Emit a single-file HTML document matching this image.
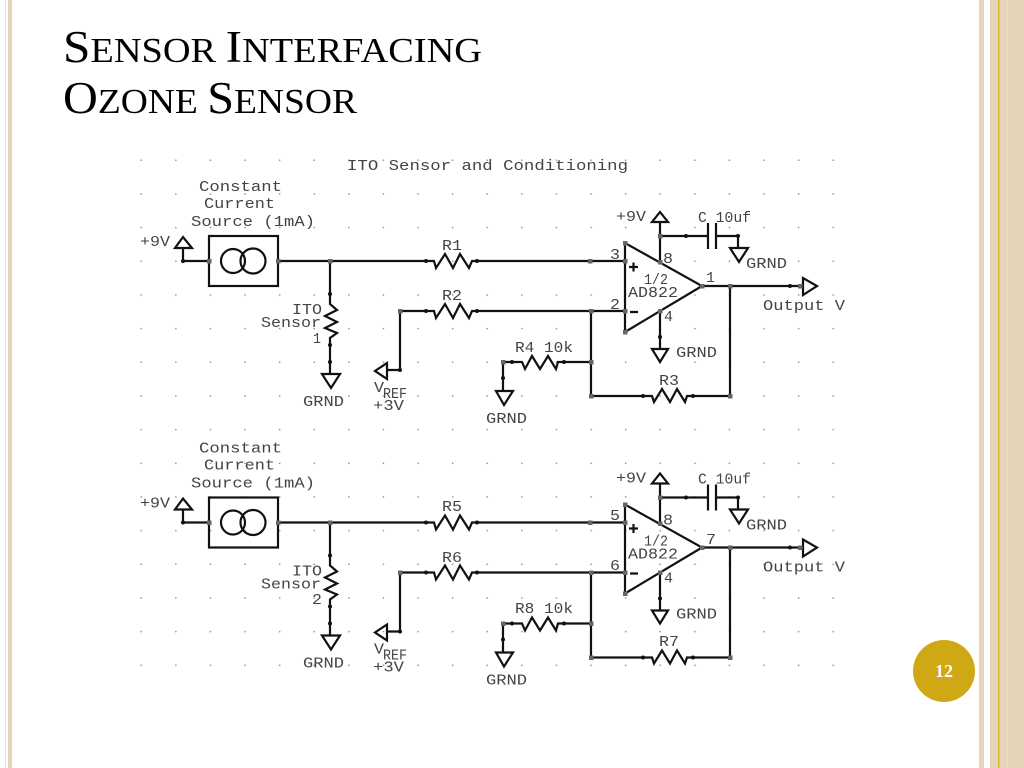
<!DOCTYPE html>
<html><head><meta charset="utf-8"><style>
html,body{margin:0;padding:0;background:#fff;width:1024px;height:768px;overflow:hidden}
svg{display:block}
.w{fill:none;stroke:#111;stroke-width:2.2}
.s{font-family:"Liberation Mono",monospace;font-size:15px;fill:#444;stroke:none}
</style></head><body>
<svg width="1024" height="768" viewBox="0 0 1024 768" xmlns="http://www.w3.org/2000/svg">
<defs>
<pattern id="g" x="140" y="159" width="34.6" height="33.67" patternUnits="userSpaceOnUse"><rect x="0.5" y="0.5" width="1.5" height="1.5" fill="#999"/></pattern>
<g id="c">
<path class="w" d="M183 248V261H209M278 261H434L436 268L445 254L453 268L460 254L469 268L472 261H625M330 261V304L337 310L325 316L337 322L325 328L337 333L330 338V374"/>
<rect class="w" x="209" y="236" width="69" height="50"/>
<circle class="w" cx="233" cy="261" r="12"/><circle class="w" cx="253" cy="261" r="12.5"/>
<path class="w" d="M175 248H192L183 237Z"/>
<path class="w" d="M322 374H340L331 388Z"/>
<path class="w" d="M400 370V311H434L436 318L445 304L453 318L460 304L469 318L472 311H625M400 370H387M387 363V379L375 371Z"/>
<path class="w" d="M625 243V332L702 286Z"/>
<path class="w" d="M591 311V396H652L654 402L662 389L670 402L677 389L685 402L687 396H730V286M702 286H803"/>
<path class="w" d="M591 362H558L556 369L548 356L540 369L532 356L525 369L522 362H503V390"/>
<path class="w" d="M496 391H513L504 405Z"/>
<path class="w" d="M803 278V295L817 286Z"/>
<path class="w" d="M660 262V223M652 222H668L660 212Z"/>
<path class="w" d="M660 236H708M708 223V249M716 223V249M716 236H738V248M730 248H748L739 262Z"/>
<path class="w" d="M660 311V349M652 349H668L660 362Z"/>
<path class="w" d="M629 267H638M633.500 262.500V271.500M630 312H638" stroke-width="2.4"/>
<g fill="#111">
<circle cx="426" cy="261" r="2"/><circle cx="477" cy="261" r="2"/><circle cx="426" cy="311" r="2"/><circle cx="477" cy="311" r="2"/><circle cx="330" cy="294" r="2"/><circle cx="330" cy="345" r="2"/><circle cx="330" cy="362" r="2"/><circle cx="400" cy="370" r="2"/><circle cx="183" cy="261" r="2"/><circle cx="643" cy="396" r="2"/><circle cx="693" cy="396" r="2"/><circle cx="564" cy="362" r="2"/><circle cx="512" cy="362" r="2"/><circle cx="503" cy="378" r="2"/><circle cx="790" cy="286" r="2"/><circle cx="686" cy="236" r="2"/><circle cx="738" cy="236" r="2"/><circle cx="660" cy="337" r="2"/>
</g>
<g fill="#666">
<rect x="207" y="259" width="4.500" height="4.500"/><rect x="276" y="259" width="4.500" height="4.500"/><rect x="328" y="259" width="4.500" height="4.500"/><rect x="398" y="309" width="4.500" height="4.500"/><rect x="588" y="259" width="4.500" height="4.500"/><rect x="589" y="309" width="4.500" height="4.500"/><rect x="623" y="259" width="4.500" height="4.500"/><rect x="623" y="309" width="4.500" height="4.500"/><rect x="623" y="241" width="4.500" height="4.500"/><rect x="623" y="330" width="4.500" height="4.500"/><rect x="658" y="260" width="4.500" height="4.500"/><rect x="658" y="309" width="4.500" height="4.500"/><rect x="700" y="284" width="4.500" height="4.500"/><rect x="728" y="284" width="4.500" height="4.500"/><rect x="658" y="234" width="4.500" height="4.500"/><rect x="589" y="360" width="4.500" height="4.500"/><rect x="589" y="394" width="4.500" height="4.500"/><rect x="728" y="394" width="4.500" height="4.500"/><rect x="501" y="360" width="4.500" height="4.500"/><rect x="798" y="284" width="4.500" height="4.500"/>
</g>
<g class="s">
<text class="s" x="199" y="191" textLength="83" lengthAdjust="spacingAndGlyphs">Constant</text>
<text class="s" x="204" y="208" textLength="71" lengthAdjust="spacingAndGlyphs">Current</text>
<text class="s" x="191" y="226" textLength="124" lengthAdjust="spacingAndGlyphs">Source (1mA)</text>
<text class="s" x="140" y="246" textLength="30" lengthAdjust="spacingAndGlyphs">+9V</text>
<text class="s" x="292" y="314" textLength="30" lengthAdjust="spacingAndGlyphs">ITO</text>
<text class="s" x="261" y="327" textLength="60" lengthAdjust="spacingAndGlyphs">Sensor</text>
<text class="s" x="303" y="406" textLength="41" lengthAdjust="spacingAndGlyphs">GRND</text>
<text class="s" x="374" y="392" textLength="10" lengthAdjust="spacingAndGlyphs">V</text>
<text class="s" x="383" y="398" textLength="24" lengthAdjust="spacingAndGlyphs">REF</text>
<text class="s" x="373" y="410" textLength="31" lengthAdjust="spacingAndGlyphs">+3V</text>
<text class="s" x="616" y="221" textLength="30" lengthAdjust="spacingAndGlyphs">+9V</text>
<text class="s" x="698" y="222" textLength="53" lengthAdjust="spacingAndGlyphs">C 10uf</text>
<text class="s" x="746" y="268" textLength="41" lengthAdjust="spacingAndGlyphs">GRND</text>
<text class="s" x="663" y="263" textLength="10" lengthAdjust="spacingAndGlyphs">8</text>
<text class="s" x="664" y="321" textLength="9" lengthAdjust="spacingAndGlyphs">4</text>
<text class="s" x="644" y="284" textLength="24" lengthAdjust="spacingAndGlyphs">1/2</text>
<text class="s" x="628" y="297" textLength="50" lengthAdjust="spacingAndGlyphs">AD822</text>
<text class="s" x="763" y="310" textLength="82" lengthAdjust="spacingAndGlyphs">Output V</text>
<text class="s" x="676" y="357" textLength="41" lengthAdjust="spacingAndGlyphs">GRND</text>
<text class="s" x="486" y="423" textLength="41" lengthAdjust="spacingAndGlyphs">GRND</text>
</g>
</g>
</defs>
<rect x="5" y="0" width="1" height="768" fill="#ece3cd"/>
<rect x="8" y="0" width="4" height="768" fill="#e3d5b5"/>
<rect x="979" y="0" width="5" height="768" fill="#e3d5b5"/>
<rect x="990" y="0" width="34" height="768" fill="#e3d5b5"/>
<rect x="998" y="0" width="1.500" height="768" fill="#d9b53a"/>
<rect x="1007" y="0" width="1" height="768" fill="#eadfc6"/>
<text font-family="Liberation Serif, serif" fill="#000" x="63" y="62" textLength="419" lengthAdjust="spacingAndGlyphs"><tspan font-size="45">S</tspan><tspan font-size="35">ENSOR </tspan><tspan font-size="45">I</tspan><tspan font-size="35">NTERFACING</tspan></text>
<text font-family="Liberation Serif, serif" fill="#000" x="63" y="113" textLength="294" lengthAdjust="spacingAndGlyphs"><tspan font-size="45">O</tspan><tspan font-size="35">ZONE </tspan><tspan font-size="45">S</tspan><tspan font-size="35">ENSOR</tspan></text>
<rect x="140" y="159" width="697" height="510" fill="url(#g)"/>
<text class="s" x="347" y="170" textLength="281" lengthAdjust="spacingAndGlyphs">ITO Sensor and Conditioning</text>
<use href="#c"/>
<use href="#c" y="261.500"/>
<g class="s">
<text class="s" x="442" y="250" textLength="20" lengthAdjust="spacingAndGlyphs">R1</text>
<text class="s" x="442" y="300" textLength="20" lengthAdjust="spacingAndGlyphs">R2</text>
<text class="s" x="659" y="385" textLength="20" lengthAdjust="spacingAndGlyphs">R3</text>
<text class="s" x="515" y="352" textLength="58" lengthAdjust="spacingAndGlyphs">R4 10k</text>
<text class="s" x="313" y="343" textLength="8" lengthAdjust="spacingAndGlyphs">1</text>
<text class="s" x="706" y="282" textLength="9" lengthAdjust="spacingAndGlyphs">1</text>
<text class="s" x="610" y="259" textLength="10" lengthAdjust="spacingAndGlyphs">3</text>
<text class="s" x="610" y="309" textLength="10" lengthAdjust="spacingAndGlyphs">2</text>
<text class="s" x="442" y="511" textLength="20" lengthAdjust="spacingAndGlyphs">R5</text>
<text class="s" x="442" y="562" textLength="20" lengthAdjust="spacingAndGlyphs">R6</text>
<text class="s" x="659" y="646" textLength="20" lengthAdjust="spacingAndGlyphs">R7</text>
<text class="s" x="515" y="613" textLength="58" lengthAdjust="spacingAndGlyphs">R8 10k</text>
<text class="s" x="312" y="604" textLength="10" lengthAdjust="spacingAndGlyphs">2</text>
<text class="s" x="706" y="544" textLength="10" lengthAdjust="spacingAndGlyphs">7</text>
<text class="s" x="610" y="520" textLength="10" lengthAdjust="spacingAndGlyphs">5</text>
<text class="s" x="610" y="570" textLength="10" lengthAdjust="spacingAndGlyphs">6</text>
</g>
<circle cx="944" cy="671" r="31" fill="#d0a816"/>
<text x="944" y="677" text-anchor="middle" font-family="Liberation Serif, serif" font-weight="bold" font-size="18" fill="#fff">12</text>
</svg>
</body></html>
